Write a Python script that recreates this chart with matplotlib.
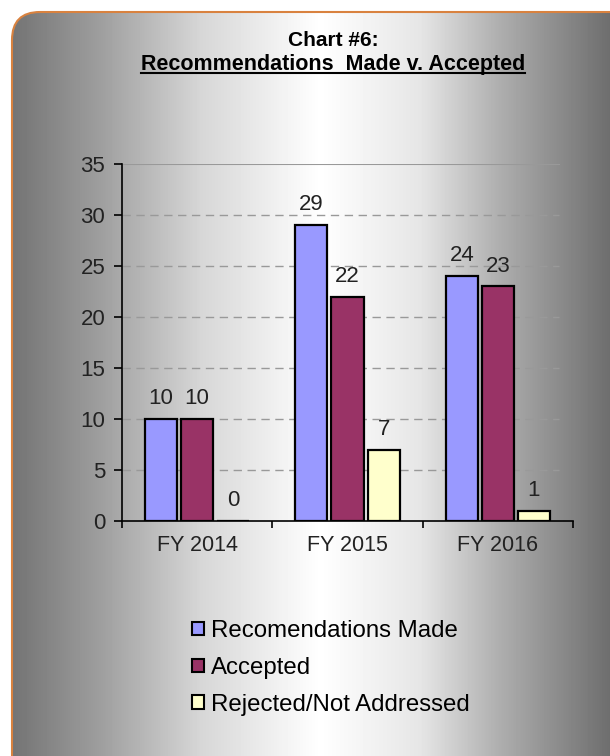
import matplotlib
matplotlib.use("Agg")
import matplotlib.pyplot as plt
import numpy as np
from matplotlib.patches import FancyBboxPatch, Rectangle
from matplotlib.lines import Line2D

plt.rcParams["font.family"] = ["Liberation Sans", "DejaVu Sans"]

# Data
categories = ["FY 2014", "FY 2015", "FY 2016"]
series_names = ["Recomendations Made", "Accepted", "Rejected/Not Addressed"]
made = [10, 29, 24]
accepted = [10, 22, 23]
rejected = [0, 7, 1]
series_values = [made, accepted, rejected]
colors = ["#9999ff", "#993366", "#ffffcc"]
y_ticks = [0, 5, 10, 15, 20, 25, 30, 35]

W, H = 610, 756
fig = plt.figure(figsize=(W / 100, H / 100), dpi=100)
fig.patch.set_facecolor("white")

# Background panel with horizontal gray gradient and rounded corners
bg = fig.add_axes([0, 0, 1, 1], zorder=-10)
bg.set_xlim(0, W)
bg.set_ylim(H, 0)
bg.axis("off")
xs = np.arange(W)
shade = np.interp(xs, [10, 100, 200, 320, 420, 500, 610], [0.45, 0.62, 0.84, 1.0, 0.9, 0.68, 0.43])
img = np.tile(shade, (H, 1))
panel = FancyBboxPatch((12, 12), W + 40, H + 40, boxstyle="round,pad=0,rounding_size=28",
                       facecolor="none", edgecolor="#d9823f", linewidth=1.5, transform=bg.transData)
bg.add_patch(panel)
im = bg.imshow(img, cmap="gray", vmin=0, vmax=1, extent=(0, W, H, 0), aspect="auto")
im.set_clip_path(panel)

# Title
fig.text(333 / W, 1 - 41 / H, "Chart #6:", ha="center", va="center", fontsize=15, fontweight="bold")
t2 = fig.text(333 / W, 1 - 64.5 / H, "Recommendations  Made v. Accepted", ha="center", va="center",
              fontsize=15.5, fontweight="bold")
fig.canvas.draw()
bb = t2.get_window_extent().transformed(fig.transFigure.inverted())
fig.add_artist(Line2D([bb.x0, bb.x1], [bb.y0 + 0.002, bb.y0 + 0.002], color="black", lw=1.5,
                      transform=fig.transFigure))

# Main chart
ax = fig.add_axes([122 / W, 1 - 521 / H, (573 - 122) / W, (521 - 164) / H])
ax.patch.set_alpha(0)
x = np.arange(len(categories))
width = 0.213
offsets = [-0.24, 0, 0.24]
for vals, off, col, name in zip(series_values, offsets, colors, series_names):
    bars = ax.bar(x + off, vals, width, color=col, edgecolor="black", linewidth=1.6, label=name, zorder=3)
    for b, v in zip(bars, vals):
        ax.annotate(str(v), (b.get_x() + b.get_width() / 2, v), xytext=(0, 7), textcoords="offset points",
                    ha="center", va="bottom", fontsize=16, color="#222222")

ax.set_xlim(-0.5, 2.5)
ax.set_ylim(0, 35)
ax.set_yticks(y_ticks)
ax.set_yticklabels([str(t) for t in y_ticks], fontsize=16, color="#222222")
ax.set_xticks(x)
ax.set_xticklabels(categories, fontsize=15.5, color="#222222")
ax.tick_params(axis="x", length=0, pad=10)
ax.tick_params(axis="y", length=6, width=1.2, pad=6)
ax.set_xticks([-0.5, 0.5, 1.5, 2.5], minor=True)
ax.tick_params(axis="x", which="minor", length=5, width=1.2, direction="out")
for t in y_ticks[1:-1]:
    ax.axhline(t, xmax=0.97, color="#999999", linestyle=(0, (6, 4)), linewidth=1, zorder=1)
ax.axhline(35, xmax=0.97, color="#999999", linewidth=1.5, zorder=1)
for s in ["top", "right"]:
    ax.spines[s].set_visible(False)
ax.spines["left"].set_linewidth(1.2)
ax.spines["bottom"].set_linewidth(1.2)

# Legend
handles = [Rectangle((0, 0), 1, 1, facecolor=c, edgecolor="black", linewidth=1.5) for c in colors]
fig.legend(handles, series_names, loc="upper left", bbox_to_anchor=(192 / W, 1 - 620 / H),
           frameon=False, fontsize=17.3, handlelength=0.5, handleheight=0.5, handletextpad=0.28,
           labelspacing=0.62, borderaxespad=0, borderpad=0)

fig.savefig("out.png", dpi=100)
